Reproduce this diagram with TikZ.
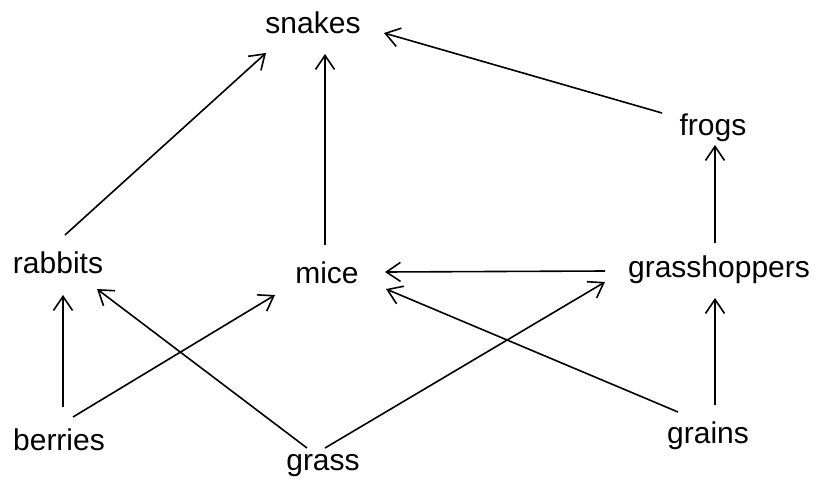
\documentclass[tikz,border=0pt]{standalone}
\usepackage{fontspec}
\setmainfont{Liberation Sans}
\usetikzlibrary{arrows.meta}
\begin{document}
\begin{tikzpicture}[x=1pt,y=-1pt,
  lbl/.style={anchor=base,inner sep=0pt,font=\fontsize{30}{36}\selectfont},
  arr/.style={-{Straight Barb[length=14pt,width=19pt,line width=1.6pt]},line width=1.6pt}]
\useasboundingbox (0,0) rectangle (820,485);
\node[lbl] (snakes) at (313,33) {snakes};
\node[lbl] (frogs) at (713,135) {frogs};
\node[lbl] (rabbits) at (58,273) {rabbits};
\node[lbl] (mice) at (327,283) {mice};
\node[lbl] (grasshoppers) at (719,277) {grasshoppers};
\node[lbl] (berries) at (59,450) {berries};
\node[lbl] (grass) at (323,470) {grass};
\node[lbl] (grains) at (708,443) {grains};
\draw[arr] ([shift={(7,-38)}]rabbits.base) -- ([shift={(-47,20)}]snakes.base);
\draw[arr] ([shift={(-2,-38)}]mice.base) -- ([shift={(12,21)}]snakes.base);
\draw[arr] ([shift={(-51,-22)}]frogs.base) -- ([shift={(71,0)}]snakes.base);
\draw[arr] ([shift={(-4,-34)}]grasshoppers.base) -- ([shift={(2,10)}]frogs.base);
\draw[arr] ([shift={(-114,-6)}]grasshoppers.base) -- ([shift={(58,-11)}]mice.base);
\draw[arr] ([shift={(4,-43)}]berries.base) -- ([shift={(5,22)}]rabbits.base);
\draw[arr] ([shift={(14,-33)}]berries.base) -- ([shift={(-52,12)}]mice.base);
\draw[arr] ([shift={(-16,-22)}]grass.base) -- ([shift={(39,16)}]rabbits.base);
\draw[arr] ([shift={(2,-22)}]grass.base) -- ([shift={(-114,5)}]grasshoppers.base);
\draw[arr] ([shift={(-30,-31)}]grains.base) -- ([shift={(59,6)}]mice.base);
\draw[arr] ([shift={(7,-38)}]grains.base) -- ([shift={(-4,21)}]grasshoppers.base);
\end{tikzpicture}
\end{document}
